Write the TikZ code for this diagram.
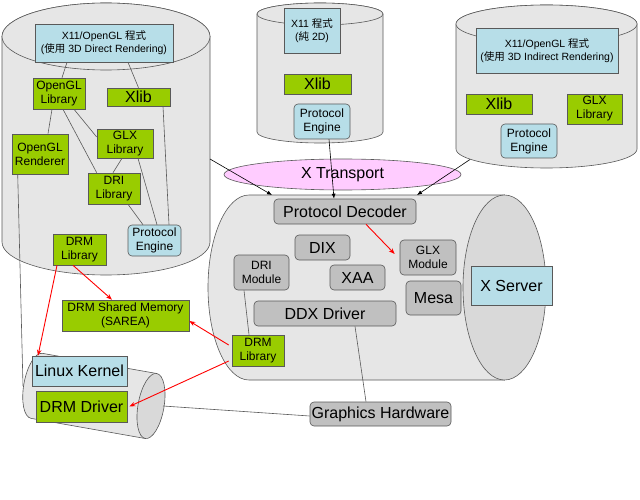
\documentclass[tikz,border=0pt]{standalone}
\usepackage{fontspec}
\setmainfont{Liberation Sans}
\newfontfamily\cjk{Noto Sans CJK TC}
\usetikzlibrary{arrows.meta,shapes.geometric}
\definecolor{cylfill}{HTML}{E6E6E6}
\definecolor{cylend}{HTML}{D9D9D9}
\definecolor{grnf}{HTML}{99CC00}
\definecolor{lbluef}{HTML}{B7DEE8}
\definecolor{gboxf}{HTML}{C0C0C0}
\definecolor{pinkf}{HTML}{FFCCFF}
\definecolor{edgec}{HTML}{595959}
\tikzset{
  cyl/.style={draw=edgec, line width=0.6pt, fill=cylfill},
  cylend/.style={draw=edgec, line width=0.6pt, fill=cylend},
  nb/.style={draw=edgec, line width=0.6pt, inner sep=1pt, align=center, text=black},
  gbx/.style={nb, fill=grnf},
  bbx/.style={nb, fill=lbluef},
  rbx/.style={nb, fill=gboxf, rounded corners=4pt},
  pbx/.style={nb, fill=lbluef, rounded corners=4pt},
  fsmall/.style={font=\fontsize{12}{14}\selectfont},
  fbig/.style={font=\fontsize{16}{18}\selectfont},
  ftiny/.style={font=\fontsize{10.5}{13}\selectfont},
  wh/.style 2 args={minimum width=#1, minimum height=#2},
  conn/.style={draw=edgec, line width=0.6pt},
  tarrow/.style={draw=black, line width=0.6pt, -{Latex[length=5pt,width=4pt]}},
  rarrow/.style={draw=red, line width=0.9pt, -{Stealth[length=6pt,width=4.5pt]}}
}
\begin{document}
\begin{tikzpicture}[x=1pt,y=-1pt]
\fill[white] (0,0) rectangle (640,500);
\useasboundingbox (0,0) rectangle (640,500);

% top-left cylinder
\filldraw[cyl] (2,36.5) -- (2,242) arc[start angle=180,end angle=0,x radius=104,y radius=33] -- (210,36.5) arc[start angle=0,end angle=-180,x radius=104,y radius=33.5] -- cycle;
\filldraw[cyl] (106,36.5) ellipse[x radius=104,y radius=33.5];
% top-middle cylinder
\filldraw[cyl] (257,14) -- (257,132) arc[start angle=180,end angle=0,x radius=63,y radius=11] -- (383,14) arc[start angle=0,end angle=-180,x radius=63,y radius=11] -- cycle;
\filldraw[cyl] (320,14) ellipse[x radius=63,y radius=11];
% top-right cylinder
\filldraw[cyl] (456,24) -- (456,149) arc[start angle=180,end angle=0,x radius=90.5,y radius=19] -- (637,24) arc[start angle=0,end angle=-180,x radius=90.5,y radius=19] -- cycle;
\filldraw[cyl] (546.5,24) ellipse[x radius=90.5,y radius=19];

% server cylinder (horizontal)
\filldraw[cyl] (504.5,195) -- (249,195) arc[start angle=-90,end angle=-270,x radius=41,y radius=92.5] -- (504.5,380) -- cycle;
\filldraw[cylend] (504.5,287.5) ellipse[x radius=41.5,y radius=92.5];

% kernel cylinder (tilted)
\begin{scope}[shift={(151,406)}, rotate=-10]
\filldraw[cyl] (0,-33) -- (-116,-33) arc[start angle=-90,end angle=-270,x radius=13,y radius=33] -- (0,33) -- cycle;
\filldraw[cylend] (0,0) ellipse[x radius=13,y radius=33];
\end{scope}

% X Transport
\node[ellipse, draw=edgec, line width=0.6pt, fill=pinkf, minimum width=237pt, minimum height=31pt, inner sep=0pt, fbig] (xt) at (342.5,174.5) {X Transport};

% coordinates for free ends
\coordinate (a1) at (210,159);
\coordinate (s1) at (272,195);
\coordinate (a3) at (470,159.5);
\coordinate (s3) at (417,195);
\coordinate (k1) at (23,386);
\coordinate (k2) at (163,406);

% top-left nodes
\node[bbx, ftiny, wh={138pt}{38pt}] (x11a) at (104,43) {X11/OpenGL {\cjk 程式}\\({\cjk 使用} 3D Direct Rendering)};
\node[gbx, fsmall, wh={52pt}{31pt}] (ogllib) at (59,93.5) {OpenGL\\Library};
\node[gbx, fbig, wh={63pt}{18pt}, inner sep=0pt] (xliba) at (138.5,97) {Xlib};
\node[gbx, fsmall, wh={56pt}{29pt}] (glxlib) at (125,143.5) {GLX\\Library};
\node[gbx, fsmall, wh={56pt}{40pt}] (oglren) at (40,154) {OpenGL\\Renderer};
\node[gbx, fsmall, wh={52pt}{31pt}] (drilib) at (114,188.5) {DRI\\Library};
\node[pbx, fsmall, wh={53pt}{31pt}] (pea) at (154.5,240.5) {Protocol\\Engine};
\node[gbx, fsmall, wh={53pt}{31pt}] (drmliba) at (79.5,249.5) {DRM\\Library};

% top-middle nodes
\node[bbx, ftiny, wh={56pt}{45pt}] (x11b) at (312,30.5) {X11 {\cjk 程式}\\({\cjk 純} 2D)};
\node[gbx, fbig, wh={67pt}{20pt}, inner sep=0pt] (xlibb) at (317.5,84) {Xlib};
\node[pbx, fsmall, wh={56pt}{35pt}] (peb) at (322,121.5) {Protocol\\Engine};

% top-right nodes
\node[bbx, ftiny, wh={142pt}{45pt}] (x11c) at (547,50.5) {X11/OpenGL {\cjk 程式}\\({\cjk 使用} 3D Indirect Rendering)};
\node[gbx, fbig, wh={66pt}{20pt}, inner sep=0pt] (xlibc) at (499,104) {Xlib};
\node[gbx, fsmall, wh={55pt}{30pt}] (glxlibc) at (594.5,109) {GLX\\Library};
\node[pbx, fsmall, wh={56pt}{34pt}] (pec) at (529,141) {Protocol\\Engine};

% server nodes
\node[rbx, fbig, wh={142pt}{25pt}] (pd) at (345,211.5) {Protocol Decoder};
\node[rbx, fbig, wh={55pt}{25pt}] (dix) at (322.5,247.5) {DIX};
\node[rbx, fsmall, wh={56pt}{35pt}] (glxmod) at (428,257.5) {GLX\\Module};
\node[rbx, fsmall, wh={55pt}{35pt}] (drimod) at (261.5,272.5) {DRI\\Module};
\node[rbx, fbig, wh={55pt}{25pt}] (xaa) at (357.5,277.5) {XAA};
\node[rbx, fbig, wh={55pt}{34pt}] (mesa) at (433.5,298) {Mesa};
\node[rbx, fbig, wh={142pt}{25pt}] (ddx) at (325,313.5) {DDX Driver};
\node[bbx, fbig, wh={81pt}{39pt}] (xserver) at (511.5,285.5) {X Server};
\node[gbx, fsmall, wh={52pt}{31pt}] (drmlibb) at (258,350.5) {DRM\\Library};

% other nodes
\node[rbx, fbig, wh={141pt}{24pt}] (gh) at (380.5,414) {Graphics Hardware};
\node[gbx, fsmall, wh={127pt}{31pt}] (sarea) at (125.5,315.5) {DRM Shared Memory\\(SAREA)};
\node[bbx, fbig, wh={95pt}{30pt}] (lk) at (79.5,371) {Linux Kernel};
\node[gbx, fbig, wh={91pt}{31pt}] (drmdrv) at (81.5,406.5) {DRM Driver};

% connectors top-left
\draw[conn] ([xshift=-37pt]x11a.south) -- ([xshift=3pt]ogllib.north);
\draw[conn] ([xshift=24pt]x11a.south) -- (xliba.north);
\draw[conn] ([xshift=-7pt]ogllib.south) -- ([xshift=8pt]oglren.north);
\draw[conn] ([xshift=4pt]ogllib.south) -- ([xshift=9pt]drilib.north west);
\draw[conn] ([xshift=15pt]ogllib.south) -- ([yshift=6.5pt]glxlib.west);
\draw[conn] ([xshift=-3pt]glxlib.south) -- ([xshift=-1pt]drilib.north);
\draw[conn] ([xshift=13pt]glxlib.south) -- ([xshift=2.5pt]pea.north);
\draw[conn] ([xshift=14pt]drilib.south) -- ([xshift=-11.5pt]pea.north);
\draw[conn] ([xshift=24.5pt]xliba.south) -- ([xshift=14.5pt]pea.north);
\draw[conn] ([xshift=6pt]oglren.south west) -- (k1);

% transport arrows
\draw[tarrow] (a1) -- (s1);
\draw[tarrow] ([xshift=7pt]peb.south) -- ([xshift=-11pt]pd.north);
\draw[tarrow] (a3) -- (s3);

% server connectors
\draw[rarrow] ([xshift=21pt]pd.south) -- ([shift={(-5pt,3.5pt)}]glxmod.west);
\draw[conn] ([xshift=-17.5pt]drimod.south) -- ([xshift=-9pt]drmlibb.north);
\draw[conn] ([xshift=30pt]ddx.south) -- ([xshift=-14.5pt]gh.north);
\draw[conn] ([yshift=-2pt]gh.west) -- (k2);

% red arrows
\draw[rarrow] ([xshift=-6.5pt]drmliba.south) -- ([xshift=-13.5pt]sarea.north);
\draw[rarrow] ([xshift=-22.5pt]drmliba.south) -- ([xshift=-41.5pt]lk.north);
\draw[rarrow] ([shift={(-3pt,5.5pt)}]drmlibb.west) -- ([yshift=-5.5pt]sarea.east);
\draw[rarrow] ([shift={(-3pt,-10.5pt)}]drmlibb.west) -- ([xshift=2pt]drmdrv.east);
\end{tikzpicture}
\end{document}
